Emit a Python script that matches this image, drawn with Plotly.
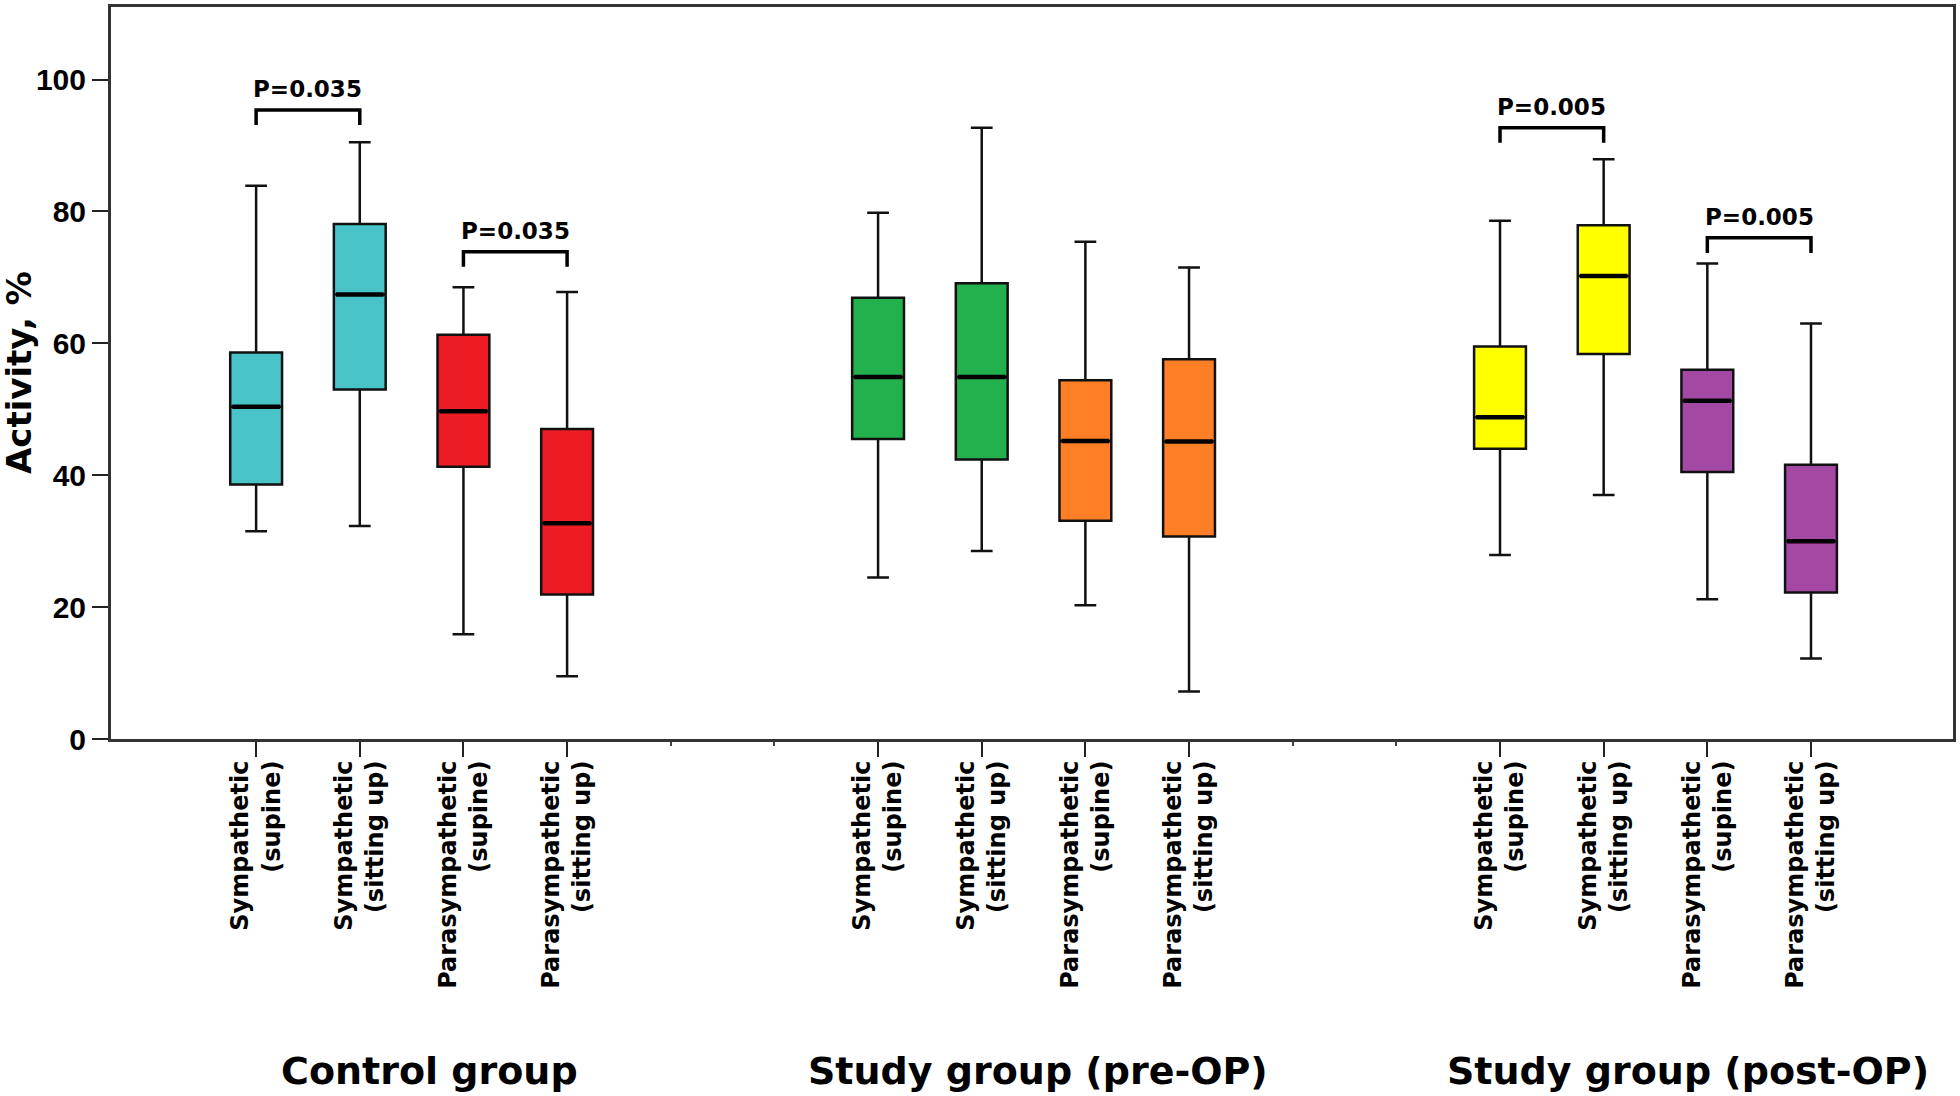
import plotly.graph_objects as go

# ---------------- data ----------------
groups = ["Control group", "Study group (pre-OP)", "Study group (post-OP)"]
conditions = ["Sympathetic<br>(supine)", "Sympathetic<br>(sitting up)",
              "Parasympathetic<br>(supine)", "Parasympathetic<br>(sitting up)"]

# order: Control (4), pre-OP (4), post-OP (4)
upper_whisker = [83.9, 90.5, 68.5, 67.8, 79.8, 92.7, 75.4, 71.5, 78.6, 87.9, 72.1, 63.0]
q3_values     = [58.6, 78.1, 61.3, 47.0, 66.9, 69.1, 54.4, 57.6, 59.5, 77.9, 56.0, 41.6]
median_values = [50.4, 67.4, 49.7, 32.7, 54.9, 54.9, 45.2, 45.1, 48.8, 70.2, 51.3, 30.0]
q1_values     = [38.6, 53.0, 41.3, 21.9, 45.5, 42.4, 33.1, 30.7, 44.0, 58.4, 40.5, 22.2]
lower_whisker = [31.5, 32.3, 15.9, 9.5, 24.5, 28.5, 20.3, 7.2, 27.9, 37.0, 21.2, 12.2]

# pair colours (sympathetic pair, parasympathetic pair) per group
pair_colors = ["#48C4C8", "#ED1C24", "#22B14C", "#FF7F27", "#FFFF00", "#A349A4"]

# significance brackets: (group, first condition, second condition, level, label)
bracket_group = [0, 0, 2, 2]
bracket_first = [0, 2, 0, 2]
bracket_second = [1, 3, 1, 3]
bracket_level = [95.4, 73.9, 92.7, 76.0]
bracket_label = ["P=0.035", "P=0.035", "P=0.005", "P=0.005"]

y_ticks = [0, 20, 40, 60, 80, 100]

# ---------------- layout helpers ----------------
SLOTS_PER_GROUP = 6
BOX_W = 0.5
positions = [g * SLOTS_PER_GROUP + i for g in range(len(groups)) for i in range(len(conditions))]
empty_slots = [g * SLOTS_PER_GROUP + i for g in range(len(groups) - 1) for i in (4, 5)]

fig = go.Figure()

for k, color in enumerate(pair_colors):
    idx = [2 * k, 2 * k + 1]
    fig.add_trace(go.Box(
        x=[positions[j] for j in idx],
        q1=[q1_values[j] for j in idx],
        median=[median_values[j] for j in idx],
        q3=[q3_values[j] for j in idx],
        lowerfence=[lower_whisker[j] for j in idx],
        upperfence=[upper_whisker[j] for j in idx],
        fillcolor=color,
        line=dict(color="#111111", width=2.5),
        width=BOX_W,
        whiskerwidth=0.42,
        boxpoints=False,
        showlegend=False,
        hoverinfo="skip",
    ))

# thicker median lines
for j, p in enumerate(positions):
    fig.add_trace(go.Scatter(
        x=[p - BOX_W / 2 + 0.02, p + BOX_W / 2 - 0.02],
        y=[median_values[j], median_values[j]],
        mode="lines", line=dict(color="black", width=4.5),
        showlegend=False, hoverinfo="skip",
    ))

# significance brackets
LEG = 2.3
for g, a, b, lvl, lab in zip(bracket_group, bracket_first, bracket_second, bracket_level, bracket_label):
    xa = positions[g * len(conditions) + a]
    xb = positions[g * len(conditions) + b]
    fig.add_trace(go.Scatter(
        x=[xa, xa, xb, xb], y=[lvl - LEG, lvl, lvl, lvl - LEG],
        mode="lines", line=dict(color="black", width=3.5),
        showlegend=False, hoverinfo="skip",
    ))
    fig.add_annotation(x=(xa + xb) / 2, y=lvl + 3.2, xref="x", yref="y",
                       text=lab, showarrow=False, yanchor="middle",
                       font=dict(family="DejaVu Sans", size=23, color="black", weight="bold"))

# group titles
group_title_x = [1.67, 7.54, 13.81]
for gx, gname in zip(group_title_x, groups):
    fig.add_annotation(x=gx, y=-0.453, xref="x", yref="paper", text=gname,
                       showarrow=False, yanchor="middle", xanchor="center",
                       font=dict(family="DejaVu Sans", size=38, color="black", weight="bold"))

# y-axis title
fig.add_annotation(x=-0.0499, y=0.50, xref="paper", yref="paper", text="Activity, %",
                   showarrow=False, textangle=-90, xanchor="center", yanchor="middle",
                   font=dict(family="DejaVu Sans", size=34, color="black", weight="bold"))

fig.update_layout(
    width=1960, height=1096,
    margin=dict(l=111, r=5, t=4, b=357),
    plot_bgcolor="white", paper_bgcolor="white",
    showlegend=False,
)
fig.update_xaxes(
    range=[-1.4, 16.37],
    tickmode="array", tickvals=positions,
    ticktext=[conditions[i % len(conditions)] for i in range(len(positions))],
    tickangle=-90,
    tickfont=dict(family="DejaVu Sans", size=24, color="black", weight="bold"),
    ticks="outside", ticklen=15, tickwidth=2, tickcolor="#222",
    ticklabelstandoff=-6,
    minor=dict(tickmode="array", tickvals=empty_slots, ticks="outside", ticklen=4,
               tickwidth=2, tickcolor="#444", showgrid=False),
    showline=True, linecolor="#333", linewidth=3, mirror=True,
    showgrid=False, zeroline=False,
)
fig.update_yaxes(
    range=[0, 111],
    tickmode="array", tickvals=y_ticks,
    tickfont=dict(family="Liberation Sans Narrow, Liberation Sans", size=30, color="black", weight="bold"),
    ticks="outside", ticklen=16, tickwidth=2, tickcolor="#222",
    showline=True, linecolor="#333", linewidth=3, mirror=True,
    showgrid=False, zeroline=False,
)

fig.write_html("out.html",
               config={"displayModeBar": False},
               post_script="document.body.style.margin='0';document.body.style.overflow='hidden';")
